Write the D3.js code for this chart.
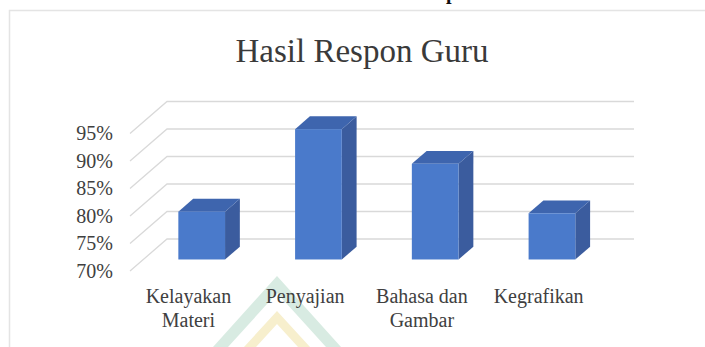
<!DOCTYPE html>
<html>
<head>
<meta charset="utf-8">
<script src="https://cdn.jsdelivr.net/npm/d3@7"></script>
<style>
  body { margin: 0; background: #fff; }
  svg  { display: block; }
  text { font-family: "Liberation Serif", "Times New Roman", Tinos, "DejaVu Serif", "Noto Serif", serif; }
</style>
</head>
<body>
<svg id="chart" width="705" height="347"></svg>

<script>

// data
var categories = ["Kelayakan Materi", "Penyajian", "Bahasa dan Gambar", "Kegrafikan"];
var labelLines = [["Kelayakan", "Materi"], ["Penyajian"], ["Bahasa dan", "Gambar"], ["Kegrafikan"]];
var values     = [0.787, 0.937, 0.874, 0.784];
var yTicks     = [0.70, 0.75, 0.80, 0.85, 0.90, 0.95];
var title      = "Hasil Respon Guru";

var svg = d3.select("#chart");

// depth of the 3d box (front plane -> back wall)
var depth = {x: 37, y: -32};
var barFront = 0.36, barDepth = 0.40;

var x = d3.scaleBand().domain(categories).range([130, 597]).paddingInner(0).paddingOuter(0);
var y = d3.scaleLinear().domain([0.70, 0.95]).range([271, 133.5]);

// outer chart frame
svg.append("path")
    .attr("d", "M9.5,347 V10.5 H705")
    .attr("fill", "none")
    .attr("stroke", "#e4e4e4")
    .attr("stroke-width", 1.5);

// cropped heading fragment from the page above
svg.append("text")
    .attr("x", 446).attr("y", -1)
    .attr("font-size", 20)
    .attr("font-weight", "bold")
    .attr("fill", "#111")
    .text("p");

// watermark
var wm = svg.append("g").attr("opacity", 0.55);
wm.append("path")
    .attr("d", "M277,276 L341,347 L326,347 L277,293 L228,347 L213,347 Z")
    .attr("fill", "#b9dccb");
wm.append("path")
    .attr("d", "M277,311 L310,347 L298,347 L277,324 L256,347 L244,347 Z")
    .attr("fill", "#f1e2a6");

// title
svg.append("text")
    .attr("x", 362).attr("y", 62)
    .attr("text-anchor", "middle")
    .attr("font-size", 33)
    .attr("fill", "#3a3a3a")
    .text(title);

// gridlines: side wall diagonals + back wall horizontals
var grid = svg.append("g");
grid.selectAll("path")
    .data(yTicks)
    .enter().append("path")
    .attr("fill", "none")
    .attr("stroke", "#d9d9d9")
    .attr("stroke-width", 1.3)
    .attr("d", function(d) {
      var x0 = x.range()[0], y0 = y(d);
      return "M" + x0 + "," + y0 +
             " L" + (x0 + depth.x) + "," + (y0 + depth.y) +
             " L" + (x.range()[1] + depth.x) + "," + (y0 + depth.y);
    });

// y axis labels
var yAxis = svg.append("g")
    .attr("transform", "translate(130,0)")
    .call(d3.axisLeft(y).tickValues(yTicks).tickSize(0).tickPadding(17).tickFormat(d3.format(".0%")));
yAxis.attr("font-family", null);
yAxis.select(".domain").remove();
yAxis.selectAll("text")
    .attr("font-size", 20)
    .attr("fill", "#404040");

// 3d bars
var bw = x.bandwidth() * 0.40;
var bars = svg.append("g").selectAll("g")
    .data(categories)
    .enter().append("g");

function face(d, i) {
  var cx = x(d) + x.bandwidth() / 2 + depth.x * barFront;
  var fx = cx - bw / 2, fx2 = cx + bw / 2;
  var dy0 = depth.y * barFront;
  var top = y(values[i]) + dy0, bot = y(0.70) + dy0;
  var ox = depth.x * barDepth, oy = depth.y * barDepth;
  return {fx: fx, fx2: fx2, top: top, bot: bot, ox: ox, oy: oy};
}

bars.append("path")
    .attr("fill", "#3b5c9e")
    .attr("d", function(d, i) {
      var f = face(d, i);
      return "M" + f.fx2 + "," + f.top + " L" + (f.fx2 + f.ox) + "," + (f.top + f.oy) +
             " L" + (f.fx2 + f.ox) + "," + (f.bot + f.oy) + " L" + f.fx2 + "," + f.bot + " Z";
    });

bars.append("path")
    .attr("fill", "#3e65ae")
    .attr("d", function(d, i) {
      var f = face(d, i);
      return "M" + f.fx + "," + f.top + " L" + (f.fx + f.ox) + "," + (f.top + f.oy) +
             " L" + (f.fx2 + f.ox) + "," + (f.top + f.oy) + " L" + f.fx2 + "," + f.top + " Z";
    });

bars.append("rect")
    .attr("fill", "#4a7acb")
    .attr("x", function(d, i) { return face(d, i).fx; })
    .attr("y", function(d, i) { return face(d, i).top; })
    .attr("width", bw)
    .attr("height", function(d, i) { var f = face(d, i); return f.bot - f.top; });

// category labels
var xAxis = svg.append("g")
    .attr("transform", "translate(0,271)")
    .call(d3.axisBottom(x).tickSize(0).tickPadding(0));
xAxis.attr("font-family", null);
xAxis.select(".domain").remove();
xAxis.selectAll("text")
    .attr("font-size", 20)
    .attr("fill", "#404040")
    .attr("dy", null)
    .attr("y", 0)
    .each(function(d, i) {
      var t = d3.select(this).text(null);
      labelLines[i].forEach(function(line, k) {
        t.append("tspan").attr("x", 0).attr("y", 32 + k * 24).text(line);
      });
    });

</script>
</body>
</html>
